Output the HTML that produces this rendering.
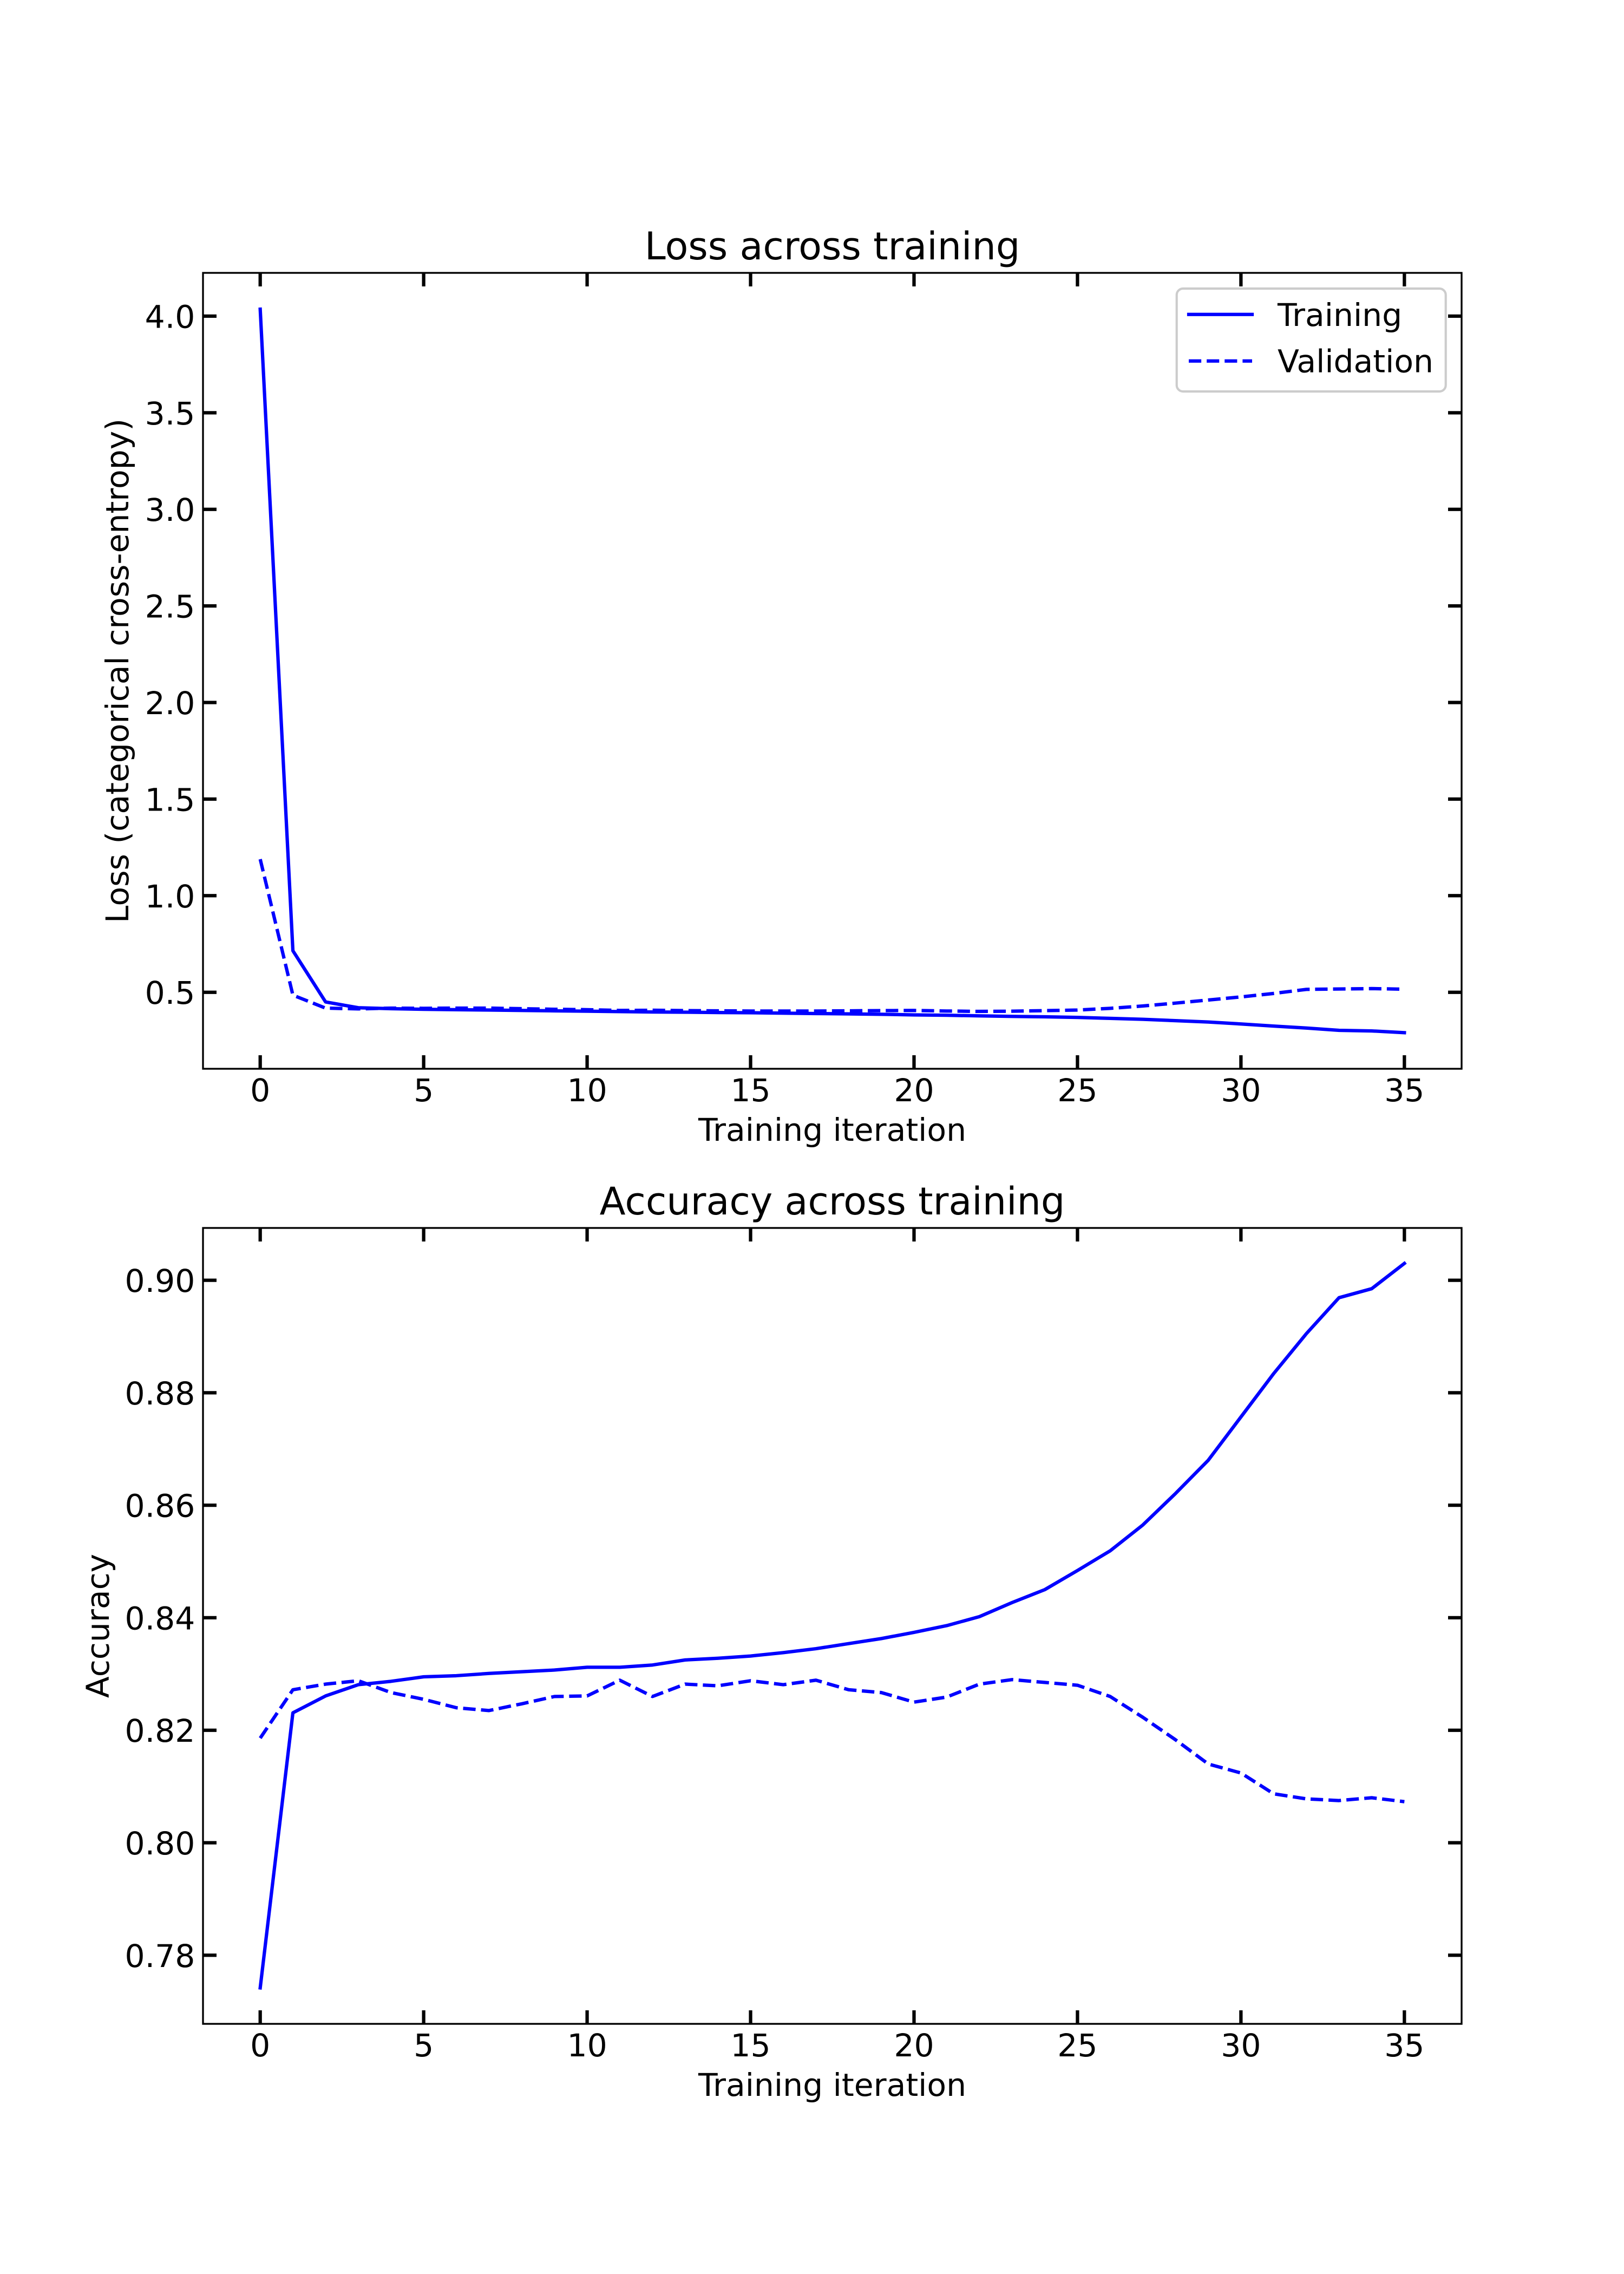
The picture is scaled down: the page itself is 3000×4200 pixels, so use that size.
<!DOCTYPE html>
<html>
<head>
<meta charset="utf-8">
<title>Loss and accuracy across training</title>
<style>
html,body{margin:0;padding:0;background:#fff;}
svg{display:block;}
text{font-family:"DejaVu Sans","Liberation Sans",sans-serif;fill:#000;}
</style>
</head>
<body>
<svg id="figure" xmlns="http://www.w3.org/2000/svg" width="3000" height="4200" viewBox="0 0 3000 4200">
<rect x="0" y="0" width="3000" height="4200" fill="#fff"/>
<g id="loss-axes"></g>
<g id="acc-axes"></g>
<text x="1537.5" y="479" font-size="70" text-anchor="middle">Loss across training</text>
<text x="1537.5" y="2243" font-size="70" text-anchor="middle">Accuracy across training</text>
<text x="1537.5" y="2107" font-size="58.33" text-anchor="middle">Training iteration</text>
<text x="1537.5" y="3871" font-size="58.33" text-anchor="middle">Training iteration</text>
<text transform="translate(237 1239) rotate(-90)" font-size="58.33" text-anchor="middle">Loss (categorical cross-entropy)</text>
<text transform="translate(201 3003) rotate(-90)" font-size="58.33" text-anchor="middle">Accuracy</text>
<g>
<rect x="2173.7" y="533" width="497" height="190" rx="11.67" ry="11.67" fill="#fff" fill-opacity="0.8" stroke="#ccc" stroke-width="4.17"/>
<line x1="2196" y1="580.7" x2="2313" y2="580.7" stroke="#0000ff" stroke-width="6.25" stroke-linecap="square"/>
<text x="2360" y="602" font-size="58.33">Training</text>
<line x1="2196" y1="666.7" x2="2313" y2="666.7" stroke="#0000ff" stroke-width="6.25" stroke-dasharray="23.125 10"/>
<text x="2360" y="687.7" font-size="58.33">Validation</text>
</g>
</svg>
<script>
const iterations = [0,1,2,3,4,5,6,7,8,9,10,11,12,13,14,15,16,17,18,19,20,21,22,23,24,25,26,27,28,29,30,31,32,33,34,35];
const lossTraining = [4.036,0.715,0.45,0.42,0.415,0.412,0.41,0.408,0.406,0.404,0.402,0.4,0.398,0.397,0.395,0.394,0.392,0.39,0.388,0.386,0.383,0.381,0.378,0.375,0.373,0.37,0.365,0.36,0.353,0.346,0.336,0.325,0.315,0.303,0.3,0.291];
const lossValidation = [1.189,0.485,0.418,0.414,0.418,0.417,0.418,0.418,0.415,0.412,0.41,0.406,0.407,0.405,0.404,0.403,0.403,0.403,0.404,0.405,0.406,0.403,0.401,0.402,0.405,0.408,0.417,0.429,0.444,0.46,0.476,0.494,0.515,0.517,0.519,0.516];
const accTraining = [0.7742,0.8231,0.8261,0.8281,0.8287,0.8295,0.8297,0.8301,0.8304,0.8307,0.8312,0.8312,0.8316,0.8325,0.8328,0.8332,0.8338,0.8345,0.8354,0.8363,0.8374,0.8386,0.8402,0.8427,0.845,0.8484,0.8519,0.8565,0.8621,0.868,0.8757,0.8834,0.8905,0.8969,0.8985,0.903];
const accValidation = [0.8186,0.8272,0.8282,0.8288,0.8267,0.8255,0.824,0.8235,0.8247,0.826,0.8261,0.8289,0.826,0.8282,0.8279,0.8288,0.8281,0.8289,0.8272,0.8267,0.825,0.8259,0.8282,0.829,0.8285,0.828,0.826,0.8223,0.8183,0.814,0.8124,0.8087,0.8078,0.8075,0.808,0.8073];
const xTickLabels = ['0','5','10','15','20','25','30','35'];
const lossTickLabels = ['0.5','1.0','1.5','2.0','2.5','3.0','3.5','4.0'];
const accTickLabels = ['0.78','0.80','0.82','0.84','0.86','0.88','0.90'];
const xLimits = [-1.75, 36.75];
const lossLimits = [0.104, 4.224];
const accLimits = [0.7678, 0.9093];

const NS = 'http://www.w3.org/2000/svg';
const plotLeft = 375;
const plotRight = 2700;
function scaleX(v) {
  return plotLeft + (v - xLimits[0]) / (xLimits[1] - xLimits[0]) * (plotRight - plotLeft);
}
function scaleY(v, limits, top, bottom) {
  return bottom - (v - limits[0]) / (limits[1] - limits[0]) * (bottom - top);
}
function make(parent, tag, attrs, content) {
  const el = document.createElementNS(NS, tag);
  Object.keys(attrs).forEach(function (k) { el.setAttribute(k, attrs[k]); });
  if (content !== undefined) el.textContent = content;
  parent.appendChild(el);
  return el;
}
function drawAxes(group, prefix, limits, top, bottom, yTicks, seriesTrain, seriesVal) {
  const yOf = function (v) { return scaleY(v, limits, top, bottom); };
  const tickLen = 25;

  xTickLabels.forEach(function (label) {
    const x = scaleX(Number(label));
    const t1 = make(group, 'line', {x1: x, x2: x, y1: bottom, y2: bottom - tickLen, stroke: '#000', 'stroke-width': 6.25});
    
    
    const t2 = make(group, 'line', {x1: x, x2: x, y1: top, y2: top + tickLen, stroke: '#000', 'stroke-width': 6.25});
    
    
    const txt = make(group, 'text', {x: x, y: bottom + 60, 'font-size': 58.33, 'text-anchor': 'middle'}, label);
    
    
  });

  yTicks.forEach(function (label) {
    const y = yOf(Number(label));
    const t1 = make(group, 'line', {x1: plotLeft, x2: plotLeft + tickLen, y1: y, y2: y, stroke: '#000', 'stroke-width': 6.25});
    
    
    const t2 = make(group, 'line', {x1: plotRight, x2: plotRight - tickLen, y1: y, y2: y, stroke: '#000', 'stroke-width': 6.25});
    
    
    const txt = make(group, 'text', {x: 360.4, y: y + 21.5, 'font-size': 58.33, 'text-anchor': 'end'}, label);
    
    
  });

  const toPoints = function (values) {
    return values.map(function (v, i) {
      return scaleX(iterations[i]).toFixed(2) + ',' + yOf(v).toFixed(2);
    }).join(' ');
  };
  const train = make(group, 'polyline', {points: toPoints(seriesTrain), fill: 'none', stroke: '#0000ff', 'stroke-width': 6.25, 'stroke-linejoin': 'round', 'stroke-linecap': 'square'});
  
  
  const val = make(group, 'polyline', {points: toPoints(seriesVal), fill: 'none', stroke: '#0000ff', 'stroke-width': 6.25, 'stroke-linejoin': 'round', 'stroke-linecap': 'butt', 'stroke-dasharray': '23.125 10'});
  
  

  const frame = make(group, 'rect', {x: plotLeft, y: top, width: plotRight - plotLeft, height: bottom - top, fill: 'none', stroke: '#000', 'stroke-width': 3.33});
  
  
}
drawAxes(document.getElementById('loss-axes'), 'loss', lossLimits, 504, 1974, lossTickLabels, lossTraining, lossValidation);
drawAxes(document.getElementById('acc-axes'), 'accuracy', accLimits, 2268, 3738, accTickLabels, accTraining, accValidation);
</script>
</body>
</html>
